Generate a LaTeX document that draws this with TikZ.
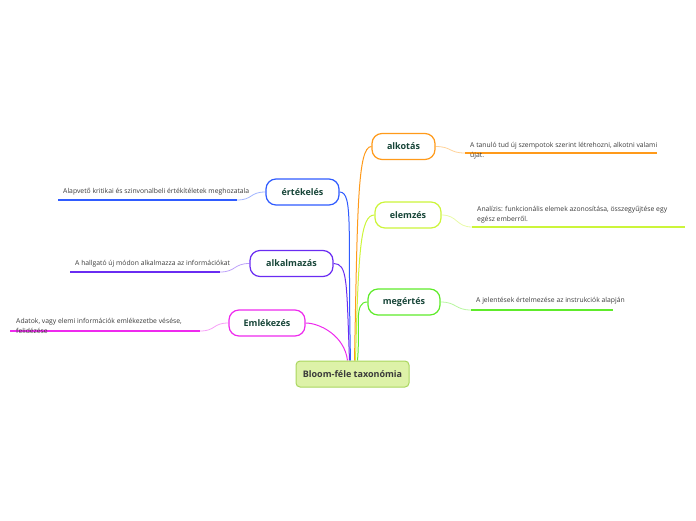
\documentclass[tikz,border=0pt]{standalone}
\usepackage{xcolor}
\usepackage{fontspec}
\setmainfont{Open Sans}
\usepackage{tikz}
\usetikzlibrary{
  positioning,
  backgrounds
}
\definecolor{orangeA}{HTML}{FF9A1A}
\definecolor{limeA}{HTML}{CCF53A}
\definecolor{greenA}{HTML}{5EEB2A}
\definecolor{blueA}{HTML}{2F5BFF}
\definecolor{purpleA}{HTML}{6A2CF2}
\definecolor{magentaA}{HTML}{EE2AEE}
\definecolor{rootfill}{HTML}{DDF2A8}
\definecolor{rootline}{HTML}{A9D65E}
\definecolor{labelgreen}{HTML}{174538}
\definecolor{notegray}{HTML}{3A3A3A}
\tikzset{
  topic/.style={draw=#1,line width=1.2pt,fill=white,rounded corners=10pt,minimum height=26pt,align=center,font=\fontsize{9}{10}\selectfont\bfseries,text=labelgreen},
  rootbox/.style={draw=rootline,line width=1pt,fill=rootfill,rounded corners=4pt,minimum width=113pt,minimum height=26pt,font=\fontsize{9}{10}\selectfont\bfseries,text=notegray},
  branch/.style={draw=#1,line width=1pt},
  twig/.style={draw=#1!45,line width=0.8pt},
  underline/.style={draw=#1,line width=2pt},
  note/.style={anchor=north west,align=left,inner sep=0pt,font=\fontsize{6.8}{10.5}\selectfont,text=notegray}
}

\begin{document}
\begin{tikzpicture}[x=1pt,y=-1pt]
    \useasboundingbox (0,0) rectangle (696,520);

    % branch nodes
    \node[rootbox] (root) at (352.5,374) {Bloom-féle taxonómia};
    \node[topic=orangeA,minimum width=63pt] (alkotas) at (403.5,146.5) {alkotás};
    \node[topic=limeA,minimum width=66pt] (elemzes) at (408,215) {elemzés};
    \node[topic=greenA,minimum width=72pt] (megertes) at (404,302) {megértés};
    \node[topic=blueA,minimum width=73pt] (ertekeles) at (302.5,192) {értékelés};
    \node[topic=purpleA,minimum width=83pt] (alkalmazas) at (291.5,263.5) {alkalmazás};
    \node[topic=magentaA,minimum width=76pt] (emlekezes) at (267,323) {Emlékezés};

    % underline ends
    \coordinate (alkotas-a) at (465,153);    \coordinate (alkotas-b) at (657,153);
    \coordinate (elemzes-a) at (472,227);    \coordinate (elemzes-b) at (685,227);
    \coordinate (megertes-a) at (471,310);   \coordinate (megertes-b) at (613,310);
    \coordinate (ertekeles-a) at (58,200);   \coordinate (ertekeles-b) at (237,200);
    \coordinate (alkalmazas-a) at (70,272);  \coordinate (alkalmazas-b) at (220,272);
    \coordinate (emlekezes-a) at (10,331);   \coordinate (emlekezes-b) at (200,331);

    % notes
    \node[note] (alkotas-t) at (470,142) {A tanuló tud új szempotok szerint létrehozni, alkotni valami\\újat.};
    \node[note] (elemzes-t) at (477,206) {Analízis: funkcionális elemek azonosítása, összegyűjtése egy\\egész emberről.};
    \node[note] (megertes-t) at (476,297) {A jelentések értelmezése az instrukciók alapján};
    \node[note] (ertekeles-t) at (63,188) {Alapvető kritikai és szinvonalbeli értékítéletek meghozatala};
    \node[note] (alkalmazas-t) at (75,260) {A hallgató új módon alkalmazza az információkat};
    \node[note] (emlekezes-t) at (16,318) {Adatok, vagy elemi információk emlékezetbe vésése,\\felidézése};

    \begin{scope}[on background layer]
    \foreach \n/\c/\dx/\h in {alkotas/orangeA/2/150,elemzes/limeA/3/110,megertes/greenA/5/35}{
        \draw[branch=\c] ([xshift=\dx pt]root.north) .. controls +(3,-\h) and +(-14,0) .. (\n.west);
        \draw[twig=\c] (\n.east) .. controls +(16,0) and +(-16,0) .. (\n-a);
        \draw[underline=\c] (\n-a) -- (\n-b);
    }
    \foreach \n/\c/\dx/\h in {ertekeles/blueA/-2/130,alkalmazas/purpleA/-3/80,emlekezes/magentaA/-5/25}{
        \draw[branch=\c] ([xshift=\dx pt]root.north) .. controls +(-3,-\h) and +(14,0) .. (\n.east);
        \draw[twig=\c] (\n.west) .. controls +(-16,0) and +(16,0) .. (\n-b);
        \draw[underline=\c] (\n-a) -- (\n-b);
    }
    \end{scope}
\end{tikzpicture}
\end{document}
